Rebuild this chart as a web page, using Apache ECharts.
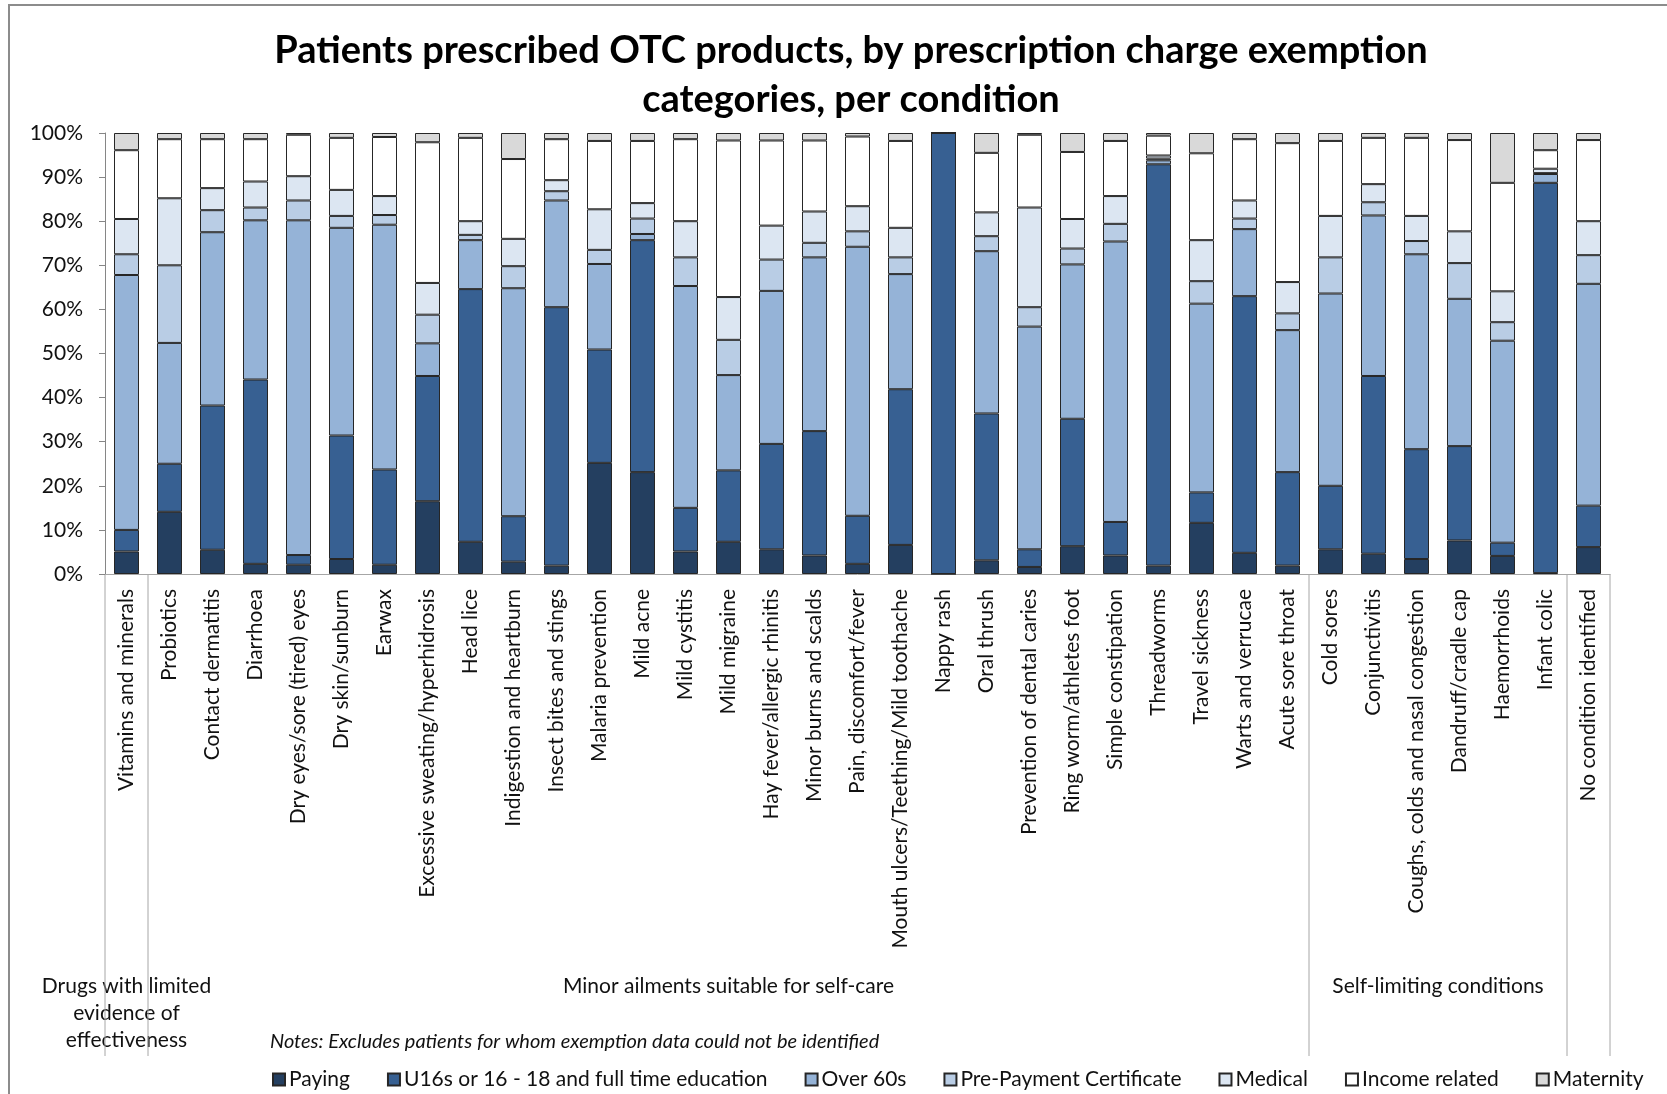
<!DOCTYPE html>
<html><head><meta charset="utf-8">
<script src="https://cdn.jsdelivr.net/npm/echarts@6/dist/echarts.min.js"></script>
<style>html,body{margin:0;padding:0;background:#fff}#c{width:1667px;height:1094px}</style>
</head><body><div id="c"></div>
<script>
const categories = [
  'Vitamins and minerals','Probiotics','Contact dermatitis','Diarrhoea','Dry eyes/sore (tired) eyes',
  'Dry skin/sunburn','Earwax','Excessive sweating/hyperhidrosis','Head lice','Indigestion and heartburn',
  'Insect bites and stings','Malaria prevention','Mild acne','Mild cystitis','Mild migraine',
  'Hay fever/allergic rhinitis','Minor burns and scalds','Pain, discomfort/fever','Mouth ulcers/Teething/Mild toothache','Nappy rash',
  'Oral thrush','Prevention of dental caries','Ring worm/athletes foot','Simple constipation','Threadworms',
  'Travel sickness','Warts and verrucae','Acute sore throat','Cold sores','Conjunctivitis',
  'Coughs, colds and nasal congestion','Dandruff/cradle cap','Haemorrhoids','Infant colic','No condition identified'
];
const groupNames = ['Drugs with limited\nevidence of\neffectiveness','Minor ailments suitable for self-care','Self-limiting conditions',''];
const groupSizes = [1, 27, 6, 1];
const seriesNames = ['Paying','U16s or 16 - 18 and full time education','Over 60s','Pre-Payment Certificate','Medical','Income related','Maternity'];
const yTickLabels = ['0%','10%','20%','30%','40%','50%','60%','70%','80%','90%','100%'];
const notesText = 'Notes: Excludes patients for whom exemption data could not be identified';
const titleText = 'Patients prescribed OTC products, by prescription charge exemption\ncategories, per condition';

const paying   = [5.1,14.1,5.5,2.3,2.1,3.4,2.1,16.5,7.3,2.8,1.9,25.2,23.1,5.1,7.3,5.6,4.2,2.3,6.6,0,3.1,1.6,6.3,4.2,1.9,11.6,4.8,1.9,5.6,4.6,3.4,7.6,4.1,0.2,6.1];
const u16      = [4.9,10.9,32.7,41.8,2.2,28.0,21.6,28.4,57.3,10.3,58.6,25.7,52.6,9.9,16.2,23.9,28.2,10.9,35.3,100,33.3,4.0,28.9,7.6,91.0,6.9,58.2,21.2,14.4,40.3,24.9,21.4,3.0,88.5,9.4];
const over60   = [57.8,27.4,39.3,36.1,75.9,47.1,55.5,7.4,11.1,51.7,24.2,19.4,1.4,50.3,21.6,34.7,39.4,61.0,26.1,0,36.8,50.5,35.0,63.6,0.9,42.8,15.2,32.2,43.6,36.4,44.2,33.4,45.8,2.0,50.3];
const ppc      = [4.7,17.6,5.0,2.9,4.5,2.7,2.2,6.5,1.2,5.0,2.1,3.2,3.5,6.5,8.0,7.1,3.3,3.5,3.8,0,3.4,4.4,3.6,4.0,0.4,5.1,2.4,3.8,8.2,3.0,3.0,8.1,4.2,0.2,6.5];
const medical  = [8.0,15.2,5.0,5.9,5.5,5.9,4.3,7.2,3.1,6.2,2.5,9.2,3.5,8.2,9.7,7.7,7.1,5.7,6.7,0,5.4,22.6,6.7,6.3,0.7,9.3,4.1,7.1,9.4,4.1,5.7,7.2,7.0,1.0,7.7];
const income   = [15.6,13.4,11.1,9.6,9.4,11.8,13.4,31.9,18.9,18.1,9.3,15.5,14.1,18.6,35.5,19.3,16.1,15.8,19.7,0,13.5,16.5,15.2,12.5,4.5,19.7,13.9,31.5,17.0,10.5,17.7,20.7,24.6,4.2,18.4];
const maternity= [3.9,1.4,1.4,1.4,0.4,1.1,0.9,2.1,1.1,5.9,1.4,1.8,1.8,1.4,1.7,1.7,1.7,0.8,1.8,0,4.5,0.4,4.3,1.8,0.6,4.6,1.4,2.3,1.8,1.1,1.1,1.6,11.3,3.9,1.6];

const seriesData = [paying, u16, over60, ppc, medical, income, maternity];
const colors = ['#243F60','#376092','#95B3D7','#B9CDE5','#DCE6F2','#FFFFFF','#D9D9D9'];
const FONT = 'Lato, "Open Sans", sans-serif';
const TXT = '#111';

const chart = echarts.init(document.getElementById('c'), null, {renderer:'canvas'});
const option = {
  animation: false,
  backgroundColor: '#fff',
  title: {
    text: titleText, left: 846, top: 21, textAlign: 'center',
    textStyle: {fontFamily: FONT, fontSize: 38, fontWeight: 'bold', color: '#000', lineHeight: 49}
  },
  grid: {left: 105, right: 57, top: 133, bottom: 520, containLabel: false},
  legend: {
    data: seriesNames, left: 267, top: 1064, icon: 'rect', itemWidth: 12, itemHeight: 12, itemGap: 37,
    textStyle: {fontFamily: FONT, fontSize: 21, color: TXT, padding: [0,0,0,-1]},
    selectedMode: false
  },
  xAxis: {
    type: 'category', data: categories,
    axisLine: {lineStyle: {color: '#A6A6A6', width: 1}},
    axisTick: {show: false},
    axisLabel: {rotate: 90, interval: 0, margin: 15, fontFamily: FONT, fontSize: 21, color: TXT}
  },
  yAxis: {
    type: 'value', min: 0, max: 100, interval: 10,
    axisLine: {show: true, lineStyle: {color: '#868686', width: 1}},
    axisTick: {show: true, length: 6, lineStyle: {color: '#868686'}},
    splitLine: {show: false},
    axisLabel: {formatter: v => yTickLabels[Math.round(v/10)], margin: 22, fontFamily: FONT, fontSize: 21, color: TXT}
  },
  series: seriesNames.map((n, i) => ({
    name: n, type: 'bar', stack: 'total', barWidth: 25, data: seriesData[i],
    itemStyle: {color: colors[i], borderColor: '#262626', borderWidth: 1},
    emphasis: {disabled: true}
  }))
};
chart.setOption(option);

// separators and group labels from axis scale
const half = (chart.convertToPixel({xAxisIndex:0}, 1) - chart.convertToPixel({xAxisIndex:0}, 0)) / 2;
const axisY = chart.convertToPixel({yAxisIndex:0}, 0);
const graphics = [];
graphics.push({type:'polyline', shape:{points:[[9,1100],[9,5],[1680,5]]}, style:{stroke:'#8C8C8C', lineWidth:2, fill:null}, silent:true});
let start = 0;
const bounds = [chart.convertToPixel({xAxisIndex:0}, 0) - half];
groupSizes.forEach((sz, gi) => {
  const end = start + sz - 1;
  const xr = chart.convertToPixel({xAxisIndex:0}, end) + half;
  const xl = chart.convertToPixel({xAxisIndex:0}, start) - half;
  bounds.push(xr);
  if (groupNames[gi]) {
    graphics.push({type:'text', x:(xl+xr)/2, y:973, silent:true,
      style:{text: groupNames[gi], fontFamily: FONT, fontSize: 21, fill: TXT, align:'center', verticalAlign:'top', lineHeight: 27}});
  }
  start = end + 1;
});
bounds.forEach(x => {
  graphics.push({type:'line', shape:{x1:x, y1:axisY, x2:x, y2:1056}, style:{stroke:'#A6A6A6', lineWidth:1}, silent:true});
});
graphics.push({type:'text', x:270, y:1042, silent:true,
  style:{text: notesText, fontFamily: FONT, fontSize: 20, fontStyle:'italic', fill: TXT, align:'left', verticalAlign:'middle'}});
chart.setOption({graphic: graphics});
</script></body></html>
